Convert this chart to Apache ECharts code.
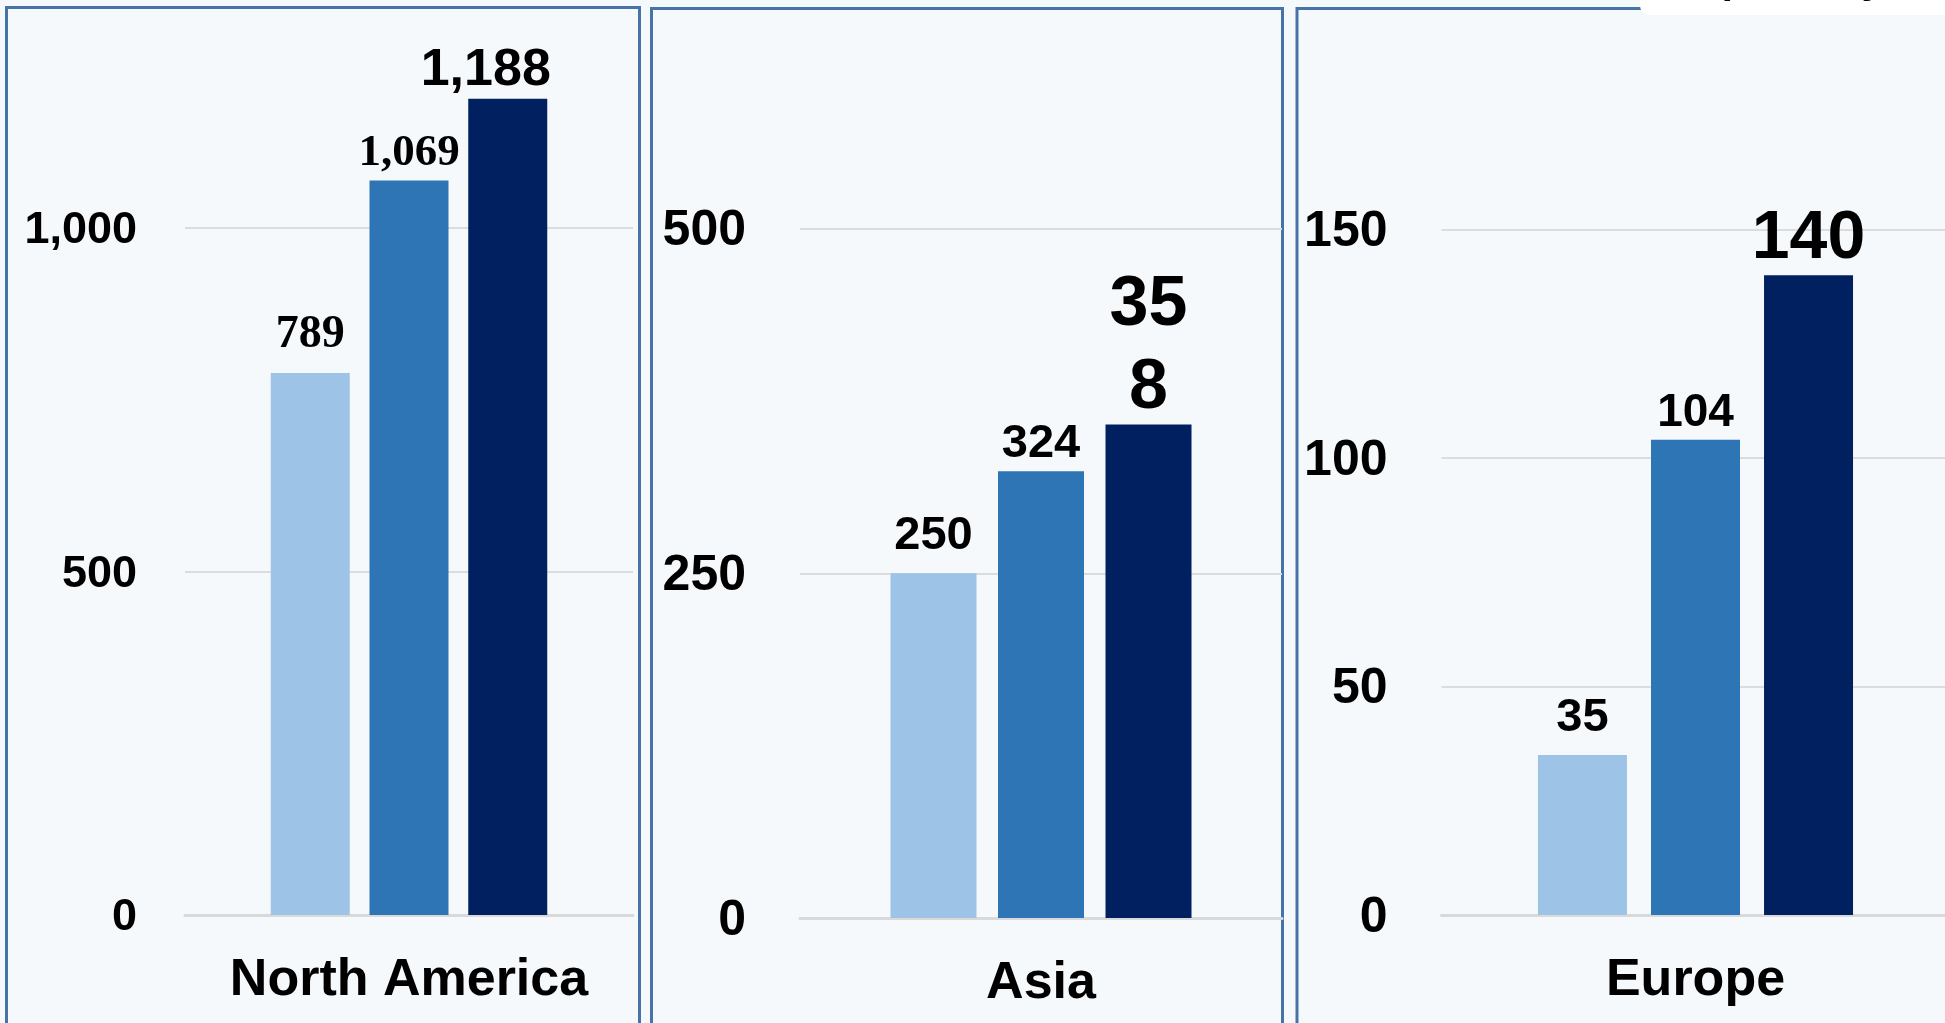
<!DOCTYPE html>
<html>
<head>
<meta charset="utf-8">
<script src="https://cdn.jsdelivr.net/npm/echarts@6/dist/echarts.min.js"></script>
<style>
  html, body { margin: 0; padding: 0; background: #F5F9FC; }
  #chart { width: 1945px; height: 1023px; }
</style>
</head>
<body>
<div id="chart"></div>
<script>
// Regions, one panel each
const regions = ['North America', 'Asia', 'Europe'];
// Three periods, light to dark
const seriesNames = ['Period A', 'Period B', 'Period C'];
const periodA = [789, 250, 35];
const periodB = [1069, 324, 104];
const periodC = [1188, 358, 140];
// Value-axis ticks per panel
const tickStep = [500, 250, 50];
const axisMax = [1500, 750, 200];

const values = [periodA, periodB, periodC];
const colors = ['#9DC3E6', '#2E75B6', '#002060'];
const SANS = '"Liberation Sans", Arial, sans-serif';
const SERIF = '"Liberation Serif", "Times New Roman", serif';

// Pixel layout of each panel's plot area
const panelLayout = [
  { left: 185, top: -115.5, width: 448, height: 1030.5, barWidth: 79, barGap: '25%', tickFont: 45, tickMargin: 48 },
  { left: 800, top: -116, width: 482, height: 1034, barWidth: 86, barGap: '25%', tickFont: 50, tickMargin: 54 },
  { left: 1441.5, top: 1, width: 508, height: 914, barWidth: 89, barGap: '27%', tickFont: 50, tickMargin: 54 }
];

// Value label look, [panel][period]
const labelStyles = [
  [ { font: SERIF, size: 46, dist: 15 },
    { font: SERIF, size: 45, dist: 5 },
    { font: SANS, size: 52, dist: 2, offset: [-22, 0] } ],
  [ { font: SANS, size: 47, dist: 14 },
    { font: SANS, size: 47, dist: 4 },
    { font: SANS, size: 70, dist: -6, width: 95, lineHeight: 83 } ],
  [ { font: SANS, size: 47, dist: 13.5 },
    { font: SANS, size: 46, dist: 3.5 },
    { font: SANS, size: 68, dist: 2 } ]
];

const fmt = v => Number(v).toLocaleString('en-US');

const grids = [], xAxes = [], yAxes = [], series = [];
regions.forEach((region, p) => {
  const L = panelLayout[p];
  grids.push({
    left: L.left, top: L.top, width: L.width, height: L.height,
    containLabel: false, outerBoundsMode: 'none'
  });
  xAxes.push({
    type: 'category', gridIndex: p, data: [region],
    axisTick: { show: false },
    axisLine: { show: true, lineStyle: { color: '#D9D9D9', width: 3 } },
    axisLabel: { fontFamily: SANS, fontWeight: 'bold', fontSize: 52, color: '#000', margin: 40 }
  });
  yAxes.push({
    type: 'value', gridIndex: p, min: 0, max: axisMax[p], interval: tickStep[p],
    axisLine: { show: false }, axisTick: { show: false },
    splitLine: { show: true, showMaxLine: false, lineStyle: { color: '#DCDCDC', width: 2 } },
    axisLabel: {
      margin: L.tickMargin, showMaxLabel: false,
      formatter: v => '{t|' + fmt(v) + '}',
      rich: {
        t: {
          fontFamily: SANS, fontWeight: 'bold', fontSize: L.tickFont, color: '#000',
          padding: [6, 0, 0, 0]
        }
      }
    }
  });
  values.forEach((arr, s) => {
    const st = labelStyles[p][s];
    const label = {
      show: true, position: 'top', distance: st.dist,
      fontFamily: st.font, fontWeight: 'bold', fontSize: st.size, color: '#000',
      formatter: prm => fmt(prm.value)
    };
    if (st.offset) label.offset = st.offset;
    if (st.width) { label.width = st.width; label.overflow = 'breakAll'; label.lineHeight = st.lineHeight; }
    series.push({
      type: 'bar', name: seriesNames[s], xAxisIndex: p, yAxisIndex: p,
      barWidth: L.barWidth, barGap: L.barGap,
      itemStyle: { color: colors[s] },
      label: label,
      animation: false,
      data: [arr[p]]
    });
  });
});

// Panel frames and the note box at the top right
const frameStyle = { stroke: '#4674A6', lineWidth: 3, fill: 'none' };
const graphic = [
  { type: 'rect', z: -5, shape: { x: 6.5, y: 7.5, width: 633, height: 1100 }, style: frameStyle },
  { type: 'rect', z: -5, shape: { x: 651.5, y: 8.5, width: 631, height: 1100 }, style: frameStyle },
  { type: 'rect', z: -5, shape: { x: 1297, y: 8.5, width: 700, height: 1100 }, style: frameStyle },
  { type: 'rect', z: 100, shape: { x: 1640, y: -30, width: 340, height: 45, r: 9 }, style: { fill: '#FFFFFF' } },
  { type: 'text', z: 101, x: 1717, y: 2, style: {
      text: '(Monthly sales, k units)', fill: '#000',
      font: 'bold 40px "Liberation Sans", Arial, sans-serif',
      textAlign: 'left', textVerticalAlign: 'bottom' } }
];

const chart = echarts.init(document.getElementById('chart'), null, { renderer: 'canvas' });
chart.setOption({
  backgroundColor: '#F5F9FC',
  animation: false,
  grid: grids,
  xAxis: xAxes,
  yAxis: yAxes,
  series: series,
  graphic: graphic
});
</script>
</body>
</html>
